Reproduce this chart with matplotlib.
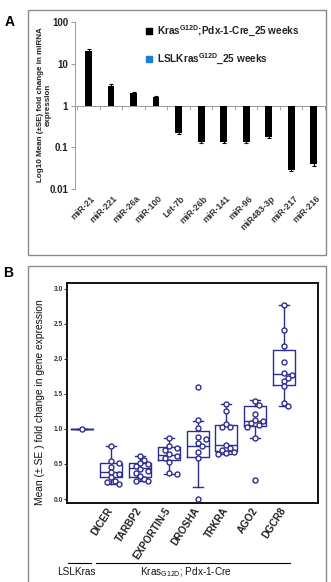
import numpy as np
import matplotlib
matplotlib.use("Agg")
import matplotlib.pyplot as plt
from matplotlib.lines import Line2D
from matplotlib.patches import Rectangle
import matplotlib.transforms as mtransforms

plt.rcParams['font.family'] = ['Liberation Sans', 'DejaVu Sans']
plt.rcParams['mathtext.fontset'] = 'custom'
plt.rcParams['mathtext.rm'] = 'Liberation Sans'
plt.rcParams['mathtext.bf'] = 'Liberation Sans:bold'
plt.rcParams['mathtext.it'] = 'Liberation Sans:italic'

# ---------------- Panel A data ----------------
mirnas = ["miR-21", "miR-221", "miR-26a", "miR-100", "Let-7b", "miR-26b",
          "miR-141", "miR-96", "miR483-3p", "miR-217", "miR-216"]
fold_change = [20.5, 3.0, 2.0, 1.6, 0.22, 0.134, 0.134, 0.134, 0.176, 0.029, 0.039]
fold_se = [1.5, 0.3, 0.15, 0.1, 0.01, 0.008, 0.008, 0.008, 0.01, 0.002, 0.003]
legend_labels = [r"Kras$^{\mathbf{G12D}}$;Pdx-1-Cre_25 weeks",
                 r"LSLKras$^{\mathbf{G12D}}$_25 weeks"]
a_yticks = [0.01, 0.1, 1, 10, 100]
a_yticklabels = ["0.01", "0.1", "1", "10", "100"]

# ---------------- Panel B data ----------------
genes = ["LSLKras", "DICER", "TARBP2", "EXPORTIN-5", "DROSHA", "TRKRA", "AGO2", "DGCR8"]
gene_points = [
    [1.0],
    [0.76, 0.54, 0.51, 0.46, 0.38, 0.36, 0.31, 0.26, 0.24, 0.22],
    [0.61, 0.56, 0.52, 0.50, 0.47, 0.43, 0.40, 0.37, 0.33, 0.29, 0.26, 0.25],
    [0.87, 0.75, 0.73, 0.70, 0.64, 0.62, 0.59, 0.53, 0.37, 0.35],
    [1.59, 1.12, 1.01, 0.89, 0.86, 0.80, 0.75, 0.67, 0.58, 0.0],
    [1.35, 1.25, 1.07, 1.03, 1.02, 0.77, 0.73, 0.70, 0.67, 0.64, 0.65],
    [1.40, 1.34, 1.21, 1.12, 1.11, 1.08, 1.05, 1.02, 0.87, 0.27],
    [2.77, 2.41, 2.18, 1.95, 1.79, 1.77, 1.73, 1.68, 1.61, 1.37, 1.33],
]
box_q1 = [1.0, 0.32, 0.32, 0.56, 0.60, 0.69, 1.04, 1.625]
box_med = [1.0, 0.38, 0.44, 0.63, 0.75, 0.77, 1.11, 1.78]
box_q3 = [1.0, 0.52, 0.51, 0.74, 0.97, 1.05, 1.33, 2.12]
box_whislo = [1.0, 0.22, 0.25, 0.36, 0.17, 0.64, 0.87, 1.33]
box_whishi = [1.0, 0.76, 0.61, 0.87, 1.11, 1.35, 1.41, 2.77]
b_yticks = [0.0, 0.5, 1.0, 1.5, 2.0, 2.5, 3.0]
group_labels = ["LSLKras", r"Kras$_{\mathregular{G12D}}$; Pdx-1-Cre"]

W, H = 331, 582
fig = plt.figure(figsize=(W / 100, H / 100), dpi=100)

def fx(px):
    return px / W

def fy(py):
    return 1 - py / H

# outer frames
for (x0, y0, x1, y1) in [(28, 10, 326, 255), (28, 266, 326, 590)]:
    fig.patches.append(Rectangle((fx(x0), fy(y1)), fx(x1 - x0), (y1 - y0) / H,
                                 transform=fig.transFigure, fill=False,
                                 edgecolor="#8a8a8a", lw=1.0))

fig.text(fx(10), fy(22), "A", fontsize=10, fontweight="bold", ha="center", va="center")
fig.text(fx(8), fy(273), "B", fontsize=10, fontweight="bold", ha="center", va="center")

# ---------------- Panel A ----------------
axA = fig.add_axes([fx(75), fy(189), fx(250), 167 / H])
x = np.arange(len(mirnas))
vals = np.array(fold_change)
axA.bar(x, vals - 1, bottom=1, width=0.3, color="black", zorder=3)
axA.errorbar(x, vals, yerr=fold_se, fmt="none", ecolor="black", elinewidth=0.8,
             capsize=1.5, capthick=0.8, zorder=4)
axA.set_yscale("log")
axA.set_ylim(0.01, 100)
axA.set_xlim(-0.6, 10.4)
axA.set_yticks(a_yticks)
axA.set_yticklabels(a_yticklabels, fontsize=7, fontweight="bold", color="#222222")
axA.yaxis.set_minor_locator(matplotlib.ticker.NullLocator())
axA.tick_params(axis="y", length=3, width=0.6, color="#888888", pad=2)
for s in ["top", "right"]:
    axA.spines[s].set_visible(False)
axA.spines["left"].set_color("#999999")
axA.spines["left"].set_linewidth(0.7)
axA.spines["bottom"].set_position(("data", 1))
axA.spines["bottom"].set_color("#999999")
axA.spines["bottom"].set_linewidth(0.7)
axA.set_xticks(np.arange(-0.5, len(mirnas), 1.0))
axA.set_xticklabels([])
axA.tick_params(axis="x", direction="out", length=3, width=0.6, color="#999999")
tr = mtransforms.blended_transform_factory(axA.transData, axA.transAxes)
offset = mtransforms.ScaledTranslation(2 / 100, -5 / 100, fig.dpi_scale_trans)
for xi, lab in zip(x, mirnas):
    axA.text(xi, 0, lab, transform=tr + offset, rotation=45, rotation_mode="anchor",
             ha="right", va="top", fontsize=6.3, fontweight="bold", color="#333333")
handles = [Line2D([], [], marker="s", ls="none", color="black", markersize=4),
           Line2D([], [], marker="s", ls="none", color="#1a7fd0", markersize=4)]
leg = axA.legend(handles, legend_labels, loc="upper left", bbox_to_anchor=(0.24, 1.045),
                 frameon=False, prop={"size": 7.2, "weight": "bold"}, labelspacing=1.3,
                 handletextpad=0.3, handlelength=1.0)
for t in leg.get_texts():
    t.set_color("#222222")
fig.text(fx(44), fy(105), "Log10 Mean (\u00b1SE) fold change in miRNA\nexpression",
         rotation=90, ha="center", va="center", fontsize=5.8, fontweight="bold",
         multialignment="center", color="#222222", linespacing=1.1)

# ---------------- Panel B ----------------
navy = "#2d2d8f"
axB = fig.add_axes([fx(67), fy(503), fx(251), 220 / H])
pos = np.arange(len(genes))
stats = []
for i in range(len(genes)):
    stats.append(dict(med=box_med[i], q1=box_q1[i], q3=box_q3[i],
                      whislo=box_whislo[i], whishi=box_whishi[i], fliers=[]))
axB.bxp(stats, positions=pos, widths=0.76, showfliers=False,
        boxprops=dict(color=navy, lw=1.0), medianprops=dict(color=navy, lw=1.0),
        whiskerprops=dict(color=navy, lw=1.0), capprops=dict(color=navy, lw=1.0),
        capwidths=0.35, manage_ticks=False)

# simple beeswarm placement in pixel space
px_per_x = 29.0
px_per_y = 70.0
diam = 5.0
for i, pts in enumerate(gene_points):
    placed = []
    order = np.argsort(pts)[::-1]
    offs = np.zeros(len(pts))
    for j in order:
        yv = pts[j] * px_per_y
        for k in [0, 1, -1, 2, -2, 3, -3]:
            xo = k * diam * 0.8
            ok = all((xo - px) ** 2 + (yv - py) ** 2 >= (diam * 0.95) ** 2 for px, py in placed)
            if ok:
                placed.append((xo, yv))
                offs[j] = xo / px_per_x
                break
    axB.plot(pos[i] + offs, pts, "o", ls="none", mfc="white", mec=navy, mew=1.0,
             ms=3.6, zorder=5)

axB.set_xlim(-0.52, 8.17)
axB.set_ylim(-0.057, 3.08)
axB.set_yticks(b_yticks)
axB.set_yticklabels([f"{v:.1f}" for v in b_yticks], fontsize=4.8, fontweight="bold",
                    color="#333333")
axB.tick_params(axis="y", length=2, width=0.6, pad=1)
for s in axB.spines.values():
    s.set_linewidth(1.4)
    s.set_color("#111111")
axB.set_xticks(pos[1:])
axB.set_xticklabels(genes[1:], rotation=57, rotation_mode="anchor", ha="right",
                    va="center", fontsize=7.2, fontweight="bold", color="#222222")
axB.tick_params(axis="x", length=0, pad=4)
fig.text(fx(40), fy(402), "Mean (\u00b1 SE ) fold change in gene expression", rotation=90,
         ha="center", va="center", fontsize=7.4, color="#111111")

# group lines and labels
trB = mtransforms.blended_transform_factory(axB.transData, fig.transFigure)
axB.plot([-0.5, 0.3], [fy(563), fy(563)], transform=trB, color="black", lw=0.8, clip_on=False)
axB.plot([0.5, 7.2], [fy(563), fy(563)], transform=trB, color="black", lw=0.8, clip_on=False)
axB.text(-0.2, fy(572), group_labels[0], transform=trB, ha="center", va="center",
         fontsize=7.2, color="#111111")
axB.text(3.6, fy(572), group_labels[1], transform=trB, ha="center", va="center",
         fontsize=7.2, color="#111111")

fig.savefig("out.png", dpi=100)
